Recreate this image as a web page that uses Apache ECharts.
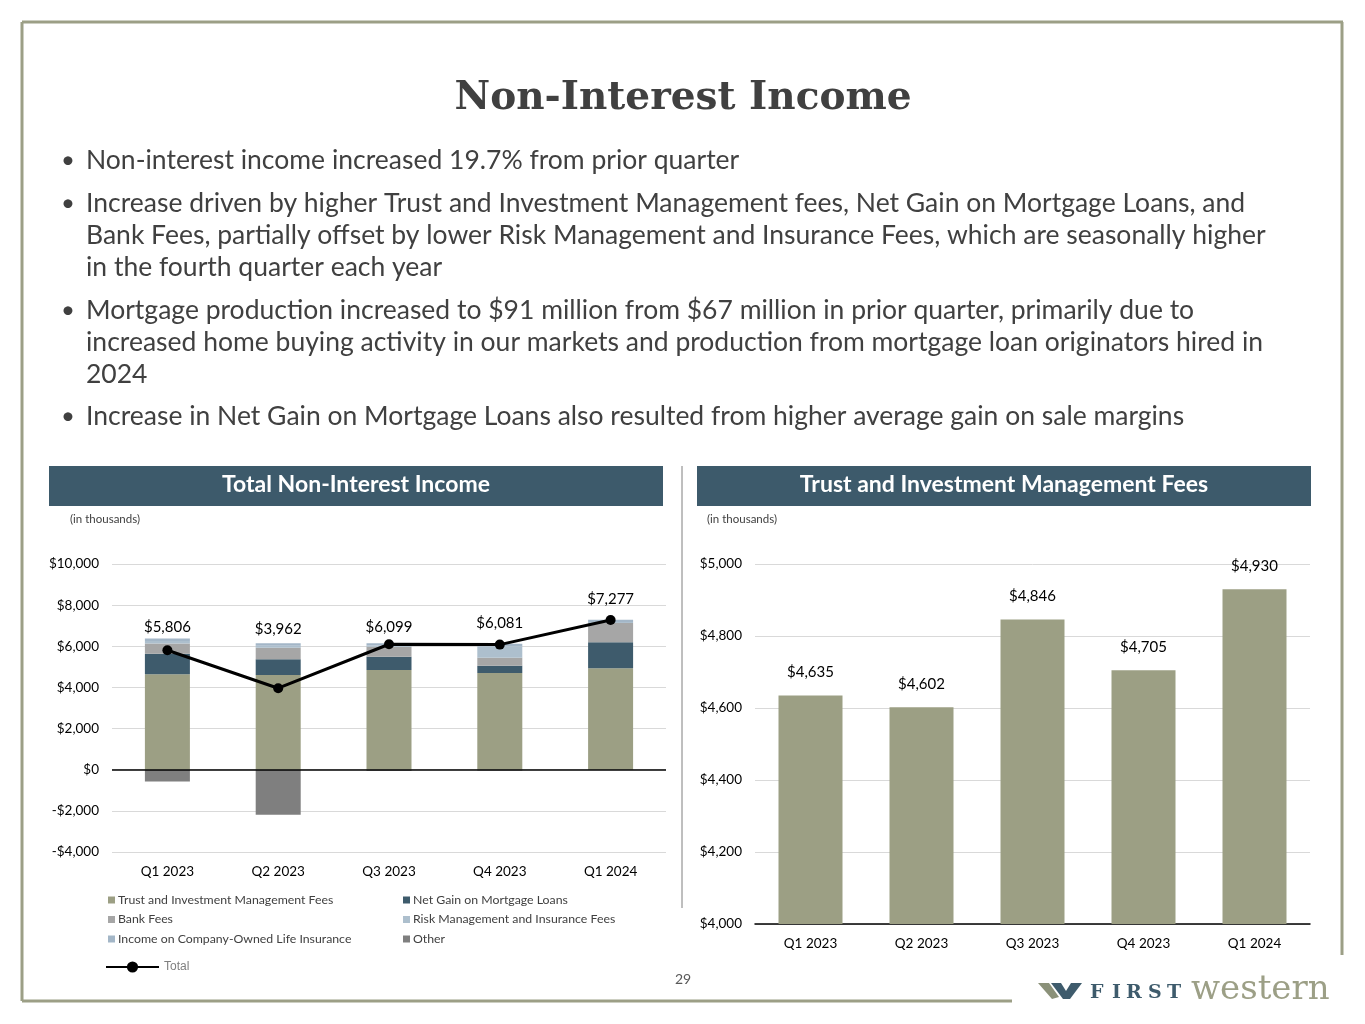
<!DOCTYPE html>
<html>
<head>
<meta charset="utf-8">
<script src="https://cdn.jsdelivr.net/npm/echarts@6/dist/echarts.min.js"></script>
<style>
html,body{margin:0;padding:0;background:#fff;}
#chart{width:1365px;height:1024px;}
</style>
</head>
<body>
<div id="chart"></div>
<script>
// ---------- data ----------
const quarters = ['Q1 2023', 'Q2 2023', 'Q3 2023', 'Q4 2023', 'Q1 2024'];
const trustFees = [4635, 4602, 4846, 4705, 4930];
const netGainMortgage = [1000, 765, 650, 350, 1270];
const bankFees = [500, 565, 480, 390, 935];
const riskMgmtFees = [120, 100, 60, 560, 40];
const coliIncome = [120, 115, 110, 120, 110];
const otherIncome = [-570, -2185, -47, -44, -8];
const totalIncome = [5806, 3962, 6099, 6081, 7277];
const leftTicks = [-4000, -2000, 0, 2000, 4000, 6000, 8000, 10000];
const rightTicks = [4000, 4200, 4400, 4600, 4800, 5000];

const titleText = 'Non-Interest Income';
const bulletLines = [
  ['Non-interest income increased 19.7% from prior quarter'],
  ['Increase driven by higher Trust and Investment Management fees, Net Gain on Mortgage Loans, and',
   'Bank Fees, partially offset by lower Risk Management and Insurance Fees, which are seasonally higher',
   'in the fourth quarter each year'],
  ['Mortgage production increased to $91 million from $67 million in prior quarter, primarily due to',
   'increased home buying activity in our markets and production from mortgage loan originators hired in',
   '2024'],
  ['Increase in Net Gain on Mortgage Loans also resulted from higher average gain on sale margins']
];

// ---------- styling ----------
const C = {
  trust: '#9c9f84', netGain: '#3e5b6c', bank: '#a6a6a6', risk: '#adbfcd',
  coli: '#a3b6c7', other: '#7f7f7f', header: '#3d5a6b', text: '#404040',
  border: '#9c9f86', grid: '#d9d9d9'
};
const FONT = 'Lato, "Open Sans", sans-serif';
const fmtMoney = v => (v < 0 ? '-$' : '$') + Math.abs(v).toLocaleString('en-US');

const chart = echarts.init(document.getElementById('chart'), null, {renderer: 'canvas'});

const graphics = [];
const line = (x1, y1, x2, y2, color, w) => graphics.push({
  type: 'line', shape: {x1, y1, x2, y2}, style: {stroke: color, lineWidth: w}, silent: true
});
line(22, 22, 1343, 22, C.border, 3);
line(22, 22, 22, 1001, C.border, 3);
line(22, 1001, 1012, 1001, C.border, 3);
line(1342, 22, 1342, 955, C.border, 3);
line(682, 466, 682, 908, '#7f7f7f', 1);

const txt = (text, x, y, font, fill, align) => graphics.push({
  type: 'text', silent: true,
  style: {text, x, y, font, fill, align: align || 'left', verticalAlign: 'middle',
          textAlign: align || 'left', textVerticalAlign: 'middle'}
});

txt(titleText, 683, 99, 'bold 39px "DejaVu Serif", serif', C.text, 'center');

const lineYs = [[160], [203, 235, 267], [310, 342, 374], [416]];
bulletLines.forEach((b, i) => {
  txt('\u2022', 68, lineYs[i][0], '24px ' + FONT, C.text, 'center');
  b.forEach((t, j) => txt(t, 86, lineYs[i][j], '26.5px ' + FONT, C.text));
});

graphics.push({type: 'rect', silent: true, shape: {x: 49, y: 466, width: 614, height: 40}, style: {fill: C.header}});
graphics.push({type: 'rect', silent: true, shape: {x: 697, y: 466, width: 614, height: 40}, style: {fill: C.header}});
txt('Total Non-Interest Income', 356, 485, 'bold 23px ' + FONT, '#ffffff', 'center');
txt('Trust and Investment Management Fees', 1004, 485, 'bold 23px ' + FONT, '#ffffff', 'center');
txt('(in thousands)', 70, 519, '11.5px ' + FONT, C.text);
txt('(in thousands)', 707, 519, '11.5px ' + FONT, C.text);
txt('29', 683, 979, '14px ' + FONT, '#595959', 'center');

// logo
graphics.push({type: 'polygon', silent: true, shape: {points: [[1038, 983], [1049, 983], [1059, 997], [1052, 999]]}, style: {fill: '#8b9179'}});
graphics.push({type: 'polygon', silent: true, shape: {points: [[1051, 983], [1061, 983], [1066, 991], [1071, 983], [1082, 983], [1070, 999], [1063, 999]]}, style: {fill: '#3e5b6c'}});
[['F', 1090], ['I', 1112], ['R', 1126], ['S', 1148], ['T', 1167]].forEach(([ch, x]) =>
  txt(ch, x, 993, 'bold 19px "DejaVu Serif", serif', '#3e5b6c'));
txt('western', 1191, 990, '34px "DejaVu Serif", serif', '#9c9f86');

// ---------- series ----------
const barW = 45;
const mkBar = (name, data, color) => ({
  name, type: 'bar', stack: 'total', xAxisIndex: 0, yAxisIndex: 0,
  barWidth: barW, data, itemStyle: {color}, emphasis: {disabled: true}
});
const leftBars = [
  mkBar('Trust and Investment Management Fees', trustFees, C.trust),
  mkBar('Net Gain on Mortgage Loans', netGainMortgage, C.netGain),
  mkBar('Bank Fees', bankFees, C.bank),
  mkBar('Risk Management and Insurance Fees', riskMgmtFees, C.risk),
  mkBar('Income on Company-Owned Life Insurance', coliIncome, C.coli),
  mkBar('Other', otherIncome, C.other)
];
leftBars[0].markLine = {
  silent: true, symbol: 'none', label: {show: false},
  lineStyle: {color: '#000', width: 1.5, type: 'solid'},
  data: [{yAxis: 0}]
};

const labelDist = [11, 47, 5, 9, 8];
const totalSeries = {
  name: 'Total', type: 'line', xAxisIndex: 0, yAxisIndex: 0, z: 5,
  data: totalIncome.map((v, i) => ({value: v, label: {distance: labelDist[i]}})),
  symbol: 'circle', symbolSize: 10,
  lineStyle: {color: '#000', width: 3}, itemStyle: {color: '#000'},
  label: {show: true, position: 'top', formatter: p => fmtMoney(p.value),
          fontFamily: FONT, fontSize: 15, color: '#000'},
  emphasis: {disabled: true}
};

const rightSeries = {
  name: 'Trust Fees', type: 'bar', xAxisIndex: 1, yAxisIndex: 1,
  barWidth: 64, data: trustFees, itemStyle: {color: C.trust},
  label: {show: true, position: 'top', distance: 16, formatter: p => fmtMoney(p.value),
          fontFamily: FONT, fontSize: 15, color: '#000'},
  emphasis: {disabled: true}
};

const axisLabelStyle = {fontFamily: FONT, fontSize: 13.5, color: '#000'};

const legendBase = {
  orient: 'vertical', icon: 'rect', itemWidth: 7, itemHeight: 7, itemGap: 5.5,
  selectedMode: false,
  textStyle: {fontFamily: FONT, fontSize: 12.3, color: C.text, lineHeight: 14, padding: [0, 0, 0, -2]}
};

const option = {
  animation: false,
  backgroundColor: '#fff',
  graphic: {elements: graphics},
  legend: [
    Object.assign({}, legendBase, {left: 103, top: 888,
      data: ['Trust and Investment Management Fees', 'Bank Fees', 'Income on Company-Owned Life Insurance']}),
    Object.assign({}, legendBase, {left: 398, top: 888,
      data: ['Net Gain on Mortgage Loans', 'Risk Management and Insurance Fees', 'Other']}),
    {left: 100, top: 956, selectedMode: false, itemWidth: 53, itemHeight: 14,
     textStyle: {fontFamily: '"Liberation Sans", Arial, sans-serif', fontSize: 12, color: '#7f7f7f'},
     data: ['Total']}
  ],
  grid: [
    {left: 112, right: 699, top: 564, bottom: 172, containLabel: false},
    {left: 755, right: 55, top: 564, bottom: 100, containLabel: false}
  ],
  xAxis: [
    {type: 'category', gridIndex: 0, data: quarters,
     axisLine: {show: false, onZero: false}, axisTick: {show: false},
     axisLabel: Object.assign({margin: 13}, axisLabelStyle)},
    {type: 'category', gridIndex: 1, data: quarters,
     axisLine: {show: true, onZero: false, lineStyle: {color: '#000', width: 1.5}}, axisTick: {show: false},
     axisLabel: Object.assign({margin: 13}, axisLabelStyle)}
  ],
  yAxis: [
    {type: 'value', gridIndex: 0, min: leftTicks[0], max: leftTicks[leftTicks.length - 1], interval: 2000,
     axisLine: {show: false}, axisTick: {show: false},
     splitLine: {lineStyle: {color: C.grid, width: 1}},
     axisLabel: Object.assign({margin: 13, formatter: v => fmtMoney(v)}, axisLabelStyle)},
    {type: 'value', gridIndex: 1, min: rightTicks[0], max: rightTicks[rightTicks.length - 1], interval: 200,
     axisLine: {show: false}, axisTick: {show: false},
     splitLine: {lineStyle: {color: C.grid, width: 1}},
     axisLabel: Object.assign({margin: 13, formatter: v => fmtMoney(v)}, axisLabelStyle)}
  ],
  series: leftBars.concat([totalSeries, rightSeries])
};
chart.setOption(option);
</script>
</body>
</html>
